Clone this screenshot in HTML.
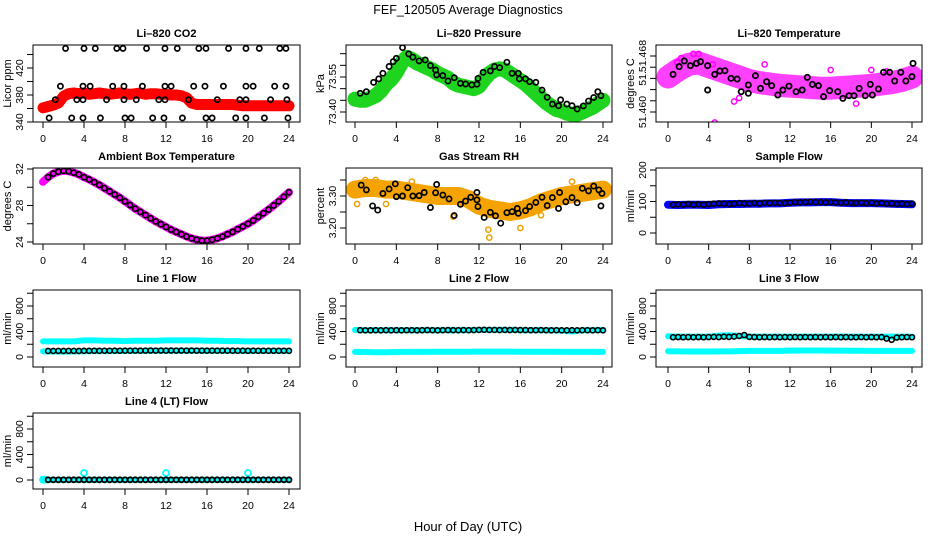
<!DOCTYPE html>
<html><head><meta charset="utf-8"><style>
html,body{margin:0;padding:0;background:#fff;}
svg{display:block;font-family:"Liberation Sans",Arial,sans-serif;}
</style></head><body>
<svg id="chart" width="936" height="540" viewBox="0 0 936 540" xmlns="http://www.w3.org/2000/svg">
<rect x="0" y="0" width="936" height="540" fill="#fff"/>
<text x="468" y="14" font-size="12.5" text-anchor="middle">FEF_120505  Average Diagnostics</text>
<text x="468" y="531" font-size="13" text-anchor="middle">Hour of Day (UTC)</text>
</svg>
<script>
// ---------- data ----------
const xTicks = [0,4,8,12,16,20,24];
const co2Band = [361,363,365,368,378,382,383,382,383,381,382,383,382,381,382,383,382,381,382,383,381,382,382,381,381,380,380,379,376,368,366,366,366,366,366,366,366,366,365,364,364,364,364,364,364,364,364,364,364];
const co2CircH = [2.2,4.0,5.1,7.2,7.8,10.1,11.9,13.1,15.2,15.9,18.1,19.8,21.1,23.1,23.7, 1.7,3.9,4.6,6.8,7.9,9.7,11.9,12.5,14.7,15.8,17.6,19.8,20.5,22.6,23.7, 1.2,3.3,3.9,6.2,7.9,9.1,11.3,11.9,14.2,17.0,19.2,19.8,22.2,23.8, 0.6,2.8,3.9,5.6,8.0,8.6,10.7,11.8,13.6,15.9,16.5,18.8,19.8,21.6,23.9];
const co2CircV = [449,449,449,449,449,449,449,449,449,449,449,449,449,449,449, 393,393,393,393,393,393,393,393,393,393,393,393,393,393,393, 373,373,373,373,373,373,373,373,373,373,373,373,373,373, 346,346,346,346,346,346,346,346,346,346,346,346,346,346,346];
const presBand = [73.455,73.45,73.45,73.46,73.47,73.49,73.52,73.54,73.57,73.61,73.635,73.625,73.61,73.60,73.59,73.58,73.565,73.555,73.545,73.525,73.515,73.51,73.505,73.50,73.51,73.54,73.565,73.58,73.585,73.58,73.565,73.55,73.535,73.52,73.50,73.48,73.46,73.44,73.425,73.41,73.405,73.395,73.39,73.39,73.40,73.41,73.42,73.435,73.45];
const presCircH = [0.5,1.1,1.8,2.3,2.7,3.3,3.7,4.0,4.6,5.2,5.6,6.2,6.8,7.3,7.8,7.9,8.5,9.0,9.6,10.2,10.7,11.3,11.8,11.9,12.4,13.1,13.5,14.0,14.7,15.2,15.8,15.9,16.5,16.9,17.5,18.1,18.6,19.1,19.7,19.9,20.5,21.0,21.5,22.1,22.6,23.1,23.5,23.8];
const presCircV = [73.48,73.487,73.527,73.542,73.566,73.595,73.616,73.63,73.676,73.649,73.635,73.619,73.623,73.599,73.58,73.559,73.556,73.533,73.547,73.523,73.52,73.516,73.519,73.544,73.57,73.576,73.595,73.59,73.613,73.566,73.566,73.542,73.542,73.53,73.527,73.494,73.463,73.434,73.427,73.452,73.434,73.427,73.413,73.426,73.447,73.462,73.487,73.47];
const ltBand = [51.4650,51.4660,51.4668,51.4670,51.4665,51.4660,51.4655,51.4650,51.4645,51.4642,51.4640,51.4638,51.4637,51.4636,51.4635,51.4634,51.4634,51.4635,51.4636,51.4637,51.4638,51.4640,51.4642,51.4645,51.4650];
const ltOutH = [1.3,2.5,3.0,4.4,4.6,6.5,7.0,16.0,18.5,20.0,21.5,0.9,9.5];
const ltOutV = [51.4677,51.4683,51.4683,51.4668,51.4585,51.4615,51.4620,51.4660,51.4612,51.4660,51.4658,51.4671,51.4668];
const ltCircH = [0.5,1.1,1.6,2.2,2.8,3.2,3.9,3.9,4.6,5.1,5.6,6.2,6.8,7.2,7.9,7.9,8.6,9.1,9.7,10.2,10.8,11.3,11.9,12.6,13.2,13.7,14.2,14.8,15.3,15.9,16.7,17.2,17.8,18.3,18.8,19.4,19.9,20.1,20.7,21.2,21.8,22.3,22.9,23.4,24.0,24.1];
const ltCircV = [51.46538,51.46648,51.46729,51.46662,51.46695,51.46719,51.46662,51.46314,51.46538,51.46586,51.4659,51.46481,51.46471,51.4629,51.46267,51.46386,51.46519,51.46338,51.46433,51.46376,51.46243,51.46314,51.4637,51.4629,51.46314,51.46495,51.46395,51.46376,51.46219,51.46305,51.4629,51.46195,51.46233,51.46233,51.46338,51.46233,51.46395,51.46243,51.46329,51.46567,51.46567,51.46443,51.46567,51.46443,51.46505,51.46695];
const ambient = [30.6,31.1,31.5,31.7,31.8,31.75,31.6,31.4,31.1,30.85,30.55,30.25,29.9,29.55,29.2,28.85,28.45,28.05,27.65,27.3,26.95,26.6,26.25,25.95,25.65,25.35,25.1,24.85,24.6,24.4,24.25,24.15,24.15,24.25,24.4,24.6,24.85,25.1,25.4,25.7,26.0,26.35,26.75,27.15,27.55,28.0,28.45,28.95,29.45];
const rhBand = [3.32,3.325,3.325,3.32,3.32,3.315,3.31,3.305,3.30,3.30,3.30,3.29,3.27,3.26,3.255,3.25,3.255,3.265,3.28,3.29,3.30,3.305,3.31,3.315,3.32];
const rhOutH = [0.2,3.0,9.5,12.9,13.0,16.0,1.0,2.0,5.5,18.0,21.0];
const rhOutV = [3.275,3.275,3.235,3.195,3.17,3.20,3.35,3.35,3.345,3.24,3.345];
const rhCircH = [0.6,1.1,1.7,2.2,2.7,3.3,3.9,4.0,4.6,5.1,5.6,6.2,6.7,7.3,7.8,7.9,8.5,9.1,9.6,10.2,10.7,11.2,11.8,11.8,11.9,12.5,13.1,13.6,14.1,14.7,15.2,15.7,15.8,16.5,16.9,17.5,18.1,18.6,19.1,19.7,19.8,20.4,21.0,21.5,22.0,22.6,23.1,23.6,23.8,23.9];
const rhCircV = [3.334,3.319,3.269,3.256,3.308,3.322,3.338,3.298,3.30,3.326,3.30,3.301,3.311,3.264,3.31,3.336,3.303,3.291,3.239,3.274,3.284,3.296,3.311,3.288,3.267,3.233,3.249,3.238,3.215,3.248,3.251,3.261,3.246,3.254,3.267,3.28,3.296,3.27,3.295,3.261,3.311,3.282,3.295,3.279,3.324,3.316,3.331,3.319,3.269,3.308];
const sampleBand = [90,89,90,90,89,91,92,92,93,93,94,94,96,97,97,98,98,96,95,95,95,94,93,92,91];
const sampleCirc = [90,91,90,92,90,91,90,92,93,94,93,92,93,95,94,93,95,94,96,95,96,95,95,96,98,97,98,99,98,98,97,98,97,96,97,96,95,96,95,96,94,95,93,94,92,93,92,93];
const l1Hi = [245,245,245,245,260,260,255,255,250,255,255,255,260,260,260,260,255,255,250,250,245,245,245,245,245];
const l1Lo = [88,86,85,86,90,92,92,93,95,96,97,97,98,98,98,98,97,97,96,96,95,95,95,95,95];
const l1Circ = [95,95,96,95,96,96,95,97,97,98,97,98,98,99,98,99,99,100,99,100,101,100,101,100,101,100,101,100,101,100,100,99,100,99,100,99,99,98,99,98,99,98,98,97,98,97,98,97];
const l2Hi = [425,420,420,420,420,420,420,420,420,420,420,420,425,425,425,425,420,420,420,420,415,400,420,420,425];
const l2Lo = [80,78,76,76,78,80,80,80,82,82,82,82,84,84,84,84,82,82,82,82,80,80,80,80,80];
const l2Circ = [420,418,418,420,418,420,418,420,418,420,420,418,420,422,420,418,420,422,420,420,422,420,422,424,426,424,424,422,424,422,424,422,422,420,420,422,420,418,420,418,418,420,418,420,420,418,420,418];
const l3Hi = [325,320,320,320,320,335,340,330,320,320,320,320,320,320,320,320,320,320,320,320,320,320,320,320,320];
const l3Lo = [90,88,86,86,86,88,88,92,95,95,96,96,100,102,102,102,100,100,98,98,96,96,95,95,95];
const l3Circ = [310,312,310,312,310,312,310,312,315,312,318,315,320,330,345,315,312,310,312,310,312,310,312,310,312,310,312,310,312,310,312,310,312,310,312,310,310,312,310,312,310,312,290,270,305,310,312,310];
const l4Lo = [2,2,2,2,2,2,2,2,2,2,2,2,2,2,2,2,2,2,2,2,2,2,2,2,2];
const l4SpikeH = [0,0.2,4,12,20];
const l4SpikeV = [5,5,110,110,110];
const l4Circ = [3,3,3,3,3,3,3,3,3,3,3,3,3,3,3,3,3,3,3,3,3,3,3,3,3,3,3,3,3,3,3,3,3,3,3,3,3,3,3,3,3,3,3,3,3,3,3,3];

// hour grids (categories)
const hours49 = []; for (let i = 0; i <= 48; i++) hours49.push(i / 2);
const hours25 = []; for (let i = 0; i <= 24; i++) hours25.push(i);
const hours48 = []; for (let i = 1; i <= 48; i++) hours48.push(i / 2);

// ---------- drawing ----------
const NS = 'http://www.w3.org/2000/svg';
const svg = document.getElementById('chart');
function el(tag, attrs, parent) {
  const e = document.createElementNS(NS, tag);
  for (const k in attrs) e.setAttribute(k, attrs[k]);
  (parent || svg).appendChild(e);
  return e;
}

function panel(cfg) {
  const g = el('g', {});
  
  
  const [l, t, r, b] = cfg.box;
  const X = h => cfg.x0 + h * (cfg.x24 - cfg.x0) / 24;
  const Y = v => cfg.ry1 + (v - cfg.rv1) * (cfg.ry2 - cfg.ry1) / (cfg.rv2 - cfg.rv1);
  const title = el('text', {x: (l + r) / 2, y: t - 8, 'font-size': 11, 'font-weight': 'bold', 'text-anchor': 'middle'}, g);
  
  
  title.textContent = cfg.title;
  const yl = el('text', {x: 0, y: 0, 'font-size': 11, 'text-anchor': 'middle', transform: `translate(${l - 22},${(t + b) / 2}) rotate(-90)`}, g);
  
  
  yl.textContent = cfg.ylab;
  const xa = el('line', {x1: X(0), x2: X(24), y1: b, y2: b, stroke: '#000'}, g);
  
  
  xTicks.forEach(h => {
    const tk = el('line', {x1: X(h), x2: X(h), y1: b, y2: b + 6, stroke: '#000'}, g);
    
    
    const tl = el('text', {x: X(h), y: b + 20, 'font-size': 10.5, 'text-anchor': 'middle'}, g);
    
    
    tl.textContent = h;
  });
  cfg.yTicks.forEach((v, i) => {
    const tk = el('line', {x1: l - 6, x2: l, y1: Y(v), y2: Y(v), stroke: '#000'}, g);
    
    
    const lab = cfg.yLabels[i];
    if (lab) {
      const tl = el('text', {x: 0, y: 0, 'font-size': 10.5, 'text-anchor': 'middle', transform: `translate(${l - 10},${Y(v)}) rotate(-90)`}, g);
      
      
      tl.textContent = lab;
    }
  });
  const ya = el('line', {x1: l, x2: l, y1: Y(cfg.yTicks[0]), y2: Y(cfg.yTicks[cfg.yTicks.length - 1]), stroke: '#000'}, g);
  
  
  const clipId = 'clip' + cfg.name;
  const cp = el('clipPath', {id: clipId}, g);
  el('rect', {x: l, y: t, width: r - l, height: b - t}, cp);
  const plot = el('g', {'clip-path': `url(#${clipId})`}, g);
  
  
  const api = {
    band(hs, vs, color, w, name) {
      const pts = hs.map((h, i) => X(h).toFixed(1) + ',' + Y(vs[i]).toFixed(1)).join(' ');
      const p = el('polyline', {points: pts, fill: 'none', stroke: color, 'stroke-width': w, 'stroke-linejoin': 'round', 'stroke-linecap': 'round'}, plot);
      
      
    },
    pts(hs, vs, color, rr, sw, name) {
      hs.forEach((h, i) => {
        const c = el('circle', {cx: X(h), cy: Y(vs[i]), r: rr, fill: 'none', stroke: color, 'stroke-width': sw}, plot);
        
        
      });
    }
  };
  const fr = el('rect', {x: l, y: t, width: r - l, height: b - t, fill: 'none', stroke: '#000'}, g);
  
  
  return api;
}

const C1 = {x0: 43, x24: 289}, C2 = {x0: 355, x24: 603}, C3 = {x0: 668, x24: 912};
const flowTicks = [0,200,400,600,800,1000], flowLabels = ['0','','400','','800',''];

let p = panel(Object.assign({name: 'co2-panel', title: 'Li\u2013820 CO2', ylab: 'Licor ppm', box: [33,45,300,122], rv1: 340, ry1: 122, rv2: 420, ry2: 68, yTicks: [340,360,380,400,420,440], yLabels: ['340','','380','','420','']}, C1));
p.band(hours49, co2Band, '#ff0000', 11, 'co2-band');
p.pts(co2CircH, co2CircV, '#000', 2.6, 1.7, 'co2-point');

p = panel(Object.assign({name: 'pressure-panel', title: 'Li\u2013820 Pressure', ylab: 'kPa', box: [346,45,612,122], rv1: 73.40, ry1: 112, rv2: 73.55, ry2: 77, yTicks: [73.40,73.45,73.50,73.55,73.60,73.65], yLabels: ['73.40','','','73.55','','']}, C2));
p.band(hours49, presBand, '#1fd41f', 15, 'pressure-band');
p.pts(presCircH, presCircV, '#000', 2.6, 1.7, 'pressure-point');

p = panel(Object.assign({name: 'li-temp-panel', title: 'Li\u2013820 Temperature', ylab: 'degrees C', box: [656,45,922,122], rv1: 51.460, ry1: 112, rv2: 51.468, ry2: 56, yTicks: [51.460,51.4616,51.4632,51.4648,51.4664,51.468], yLabels: ['51.460','','','51.','','51.468']}, C3));
p.band(hours25, ltBand, '#ff40ff', 23, 'li-temp-band');
p.pts(ltOutH, ltOutV, '#ff00ff', 2.6, 1.5, 'li-temp-outlier');
p.pts(ltCircH, ltCircV, '#000', 2.6, 1.8, 'li-temp-point');

p = panel(Object.assign({name: 'ambient-panel', title: 'Ambient Box Temperature', ylab: 'degrees C', box: [33,168,300,244], rv1: 24, ry1: 242, rv2: 32, ry2: 169, yTicks: [24,26,28,30,32], yLabels: ['24','','28','','32']}, C1));
p.band(hours49, ambient, '#ff00ff', 8, 'ambient-band');
p.pts(hours49.slice(1), ambient.slice(1), '#000', 2.6, 1.7, 'ambient-point');

p = panel(Object.assign({name: 'rh-panel', title: 'Gas Stream RH', ylab: 'percent', box: [346,168,612,244], rv1: 3.20, ry1: 228, rv2: 3.30, ry2: 196, yTicks: [3.20,3.25,3.30,3.35], yLabels: ['3.20','','3.30','']}, C2));
p.band(hours25, rhBand, '#f5a300', 18, 'rh-band');
p.pts(rhOutH, rhOutV, '#f0a000', 2.6, 1.5, 'rh-outlier');
p.pts(rhCircH, rhCircV, '#000', 2.6, 1.7, 'rh-point');

p = panel(Object.assign({name: 'sample-flow-panel', title: 'Sample Flow', ylab: 'ml/min', box: [656,168,922,244], rv1: 0, ry1: 233, rv2: 200, ry2: 170, yTicks: [0,50,100,150,200], yLabels: ['0','','100','','200']}, C3));
p.band(hours25, sampleBand, '#0000ff', 8, 'sample-flow-band');
p.pts(hours48, sampleCirc, '#000', 2.5, 1.6, 'sample-flow-point');

p = panel(Object.assign({name: 'line1-panel', title: 'Line 1 Flow', ylab: 'ml/min', box: [33,290,300,367], rv1: 0, ry1: 357, rv2: 800, ry2: 306, yTicks: flowTicks, yLabels: flowLabels}, C1));
p.band(hours25, l1Hi, '#00ffff', 6, 'line1-high-band');
p.band(hours25, l1Lo, '#00ffff', 6, 'line1-low-band');
p.pts(hours48, l1Circ, '#000', 2.5, 1.6, 'line1-point');

p = panel(Object.assign({name: 'line2-panel', title: 'Line 2 Flow', ylab: 'ml/min', box: [346,290,612,367], rv1: 0, ry1: 357, rv2: 800, ry2: 306, yTicks: flowTicks, yLabels: flowLabels}, C2));
p.band(hours25, l2Hi, '#00ffff', 6, 'line2-high-band');
p.band(hours25, l2Lo, '#00ffff', 6, 'line2-low-band');
p.pts(hours48, l2Circ, '#000', 2.5, 1.6, 'line2-point');

p = panel(Object.assign({name: 'line3-panel', title: 'Line 3 Flow', ylab: 'ml/min', box: [656,290,922,367], rv1: 0, ry1: 357, rv2: 800, ry2: 306, yTicks: flowTicks, yLabels: flowLabels}, C3));
p.band(hours25, l3Hi, '#00ffff', 6, 'line3-high-band');
p.band(hours25, l3Lo, '#00ffff', 6, 'line3-low-band');
p.pts(hours48, l3Circ, '#000', 2.5, 1.6, 'line3-point');

p = panel(Object.assign({name: 'line4-panel', title: 'Line 4 (LT) Flow', ylab: 'ml/min', box: [33,413,300,489], rv1: 0, ry1: 480, rv2: 800, ry2: 429, yTicks: flowTicks, yLabels: flowLabels}, C1));
p.band(hours25, l4Lo, '#00ffff', 6, 'line4-low-band');
p.pts(l4SpikeH, l4SpikeV, '#00ffff', 3, 1.8, 'line4-spike');
p.pts(hours48, l4Circ, '#000', 2.5, 1.8, 'line4-point');
</script>
</body></html>
